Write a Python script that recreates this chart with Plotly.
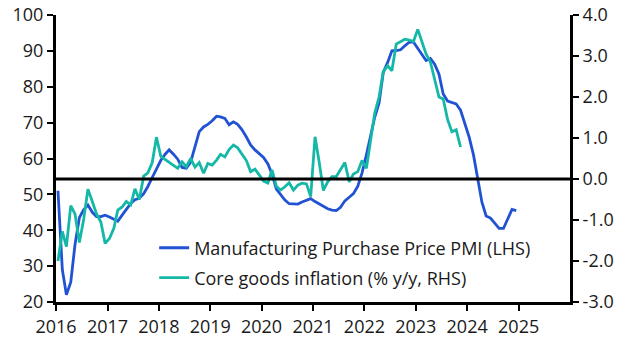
import pandas as pd
import plotly.graph_objects as go

# Manufacturing Purchase Price PMI (LHS), monthly Jan 2016 - Dec 2024
pmi = [51, 29, 22, 25.5, 36, 43.5, 45.7, 47, 45, 43.8, 43.8, 44.2,
       43.7, 43, 42.5, 44.2, 46, 47.5, 48.5, 48.9, 50.2, 52.2, 54.7, 57.3,
       59.5, 61.2, 62.4, 61.2, 59.8, 57.5, 57.3, 59, 63.3, 67.5, 68.8, 69.5,
       70.5, 71.8, 71.6, 71.2, 69.4, 70.2, 69.5, 68, 66, 63.8, 62.4, 61.4,
       60.3, 58.5, 55.7, 51.5, 49.8, 48.4, 47.4, 47.3, 47.3, 47.9, 48.3, 48.8,
       48, 47.3, 46.5, 46, 45.6, 45.5, 46.4, 48.2, 49.2, 50.2, 52.3, 56,
       61, 66.5, 71.5, 75.5, 84, 86.8, 90, 90.1, 90.3, 91.4, 92.4, 92.5,
       90.6, 88.9, 87.3, 87.9, 86.3, 83.5, 78, 76, 75.6, 75.2, 73.5, 69.8,
       66, 61, 54.5, 47.8, 44, 43.4, 42, 40.5, 40.5, 43, 45.8, 45.5]

# Core goods inflation (% y/y, RHS), monthly Jan 2016 - Nov 2023
core = [-2.0, -1.28, -1.65, -0.65, -0.85, -1.55, -1.0, -0.25, -0.55, -0.85, -1.05, -1.57,
        -1.45, -1.2, -0.76, -0.68, -0.55, -0.63, -0.24, -0.5, 0.07, 0.15, 0.4, 1.02,
        0.55, 0.48, 0.42, 0.33, 0.26, 0.42, 0.3, 0.5, 0.29, 0.4, 0.14, 0.38,
        0.34, 0.46, 0.6, 0.54, 0.72, 0.83, 0.76, 0.62, 0.45, 0.18, 0.24, 0.1,
        -0.05, -0.1, 0.22, -0.18, -0.27, -0.19, -0.09, -0.27, -0.15, -0.1, -0.12, -0.43,
        1.03, 0.38, -0.28, -0.07, 0.06, 0.06, 0.24, 0.4, -0.07, 0.12, 0.18, 0.45,
        0.26, 1.03, 1.6, 2.0, 2.62, 2.76, 2.64, 3.29, 3.36, 3.41, 3.39, 3.35,
        3.65, 3.35, 3.05, 2.85, 2.4, 2.0, 1.95, 1.45, 1.15, 1.2, 0.78]

years = [str(y) for y in range(2016, 2026)]
lhs_ticks = [20, 30, 40, 50, 60, 70, 80, 90, 100]
rhs_ticks = [-3, -2, -1, 0, 1, 2, 3, 4]
rhs_labels = ["-3.0", "-2.0", "-1.0", "0.0", "1.0", "2.0", "3.0", "4.0"]

names = ["Manufacturing Purchase Price PMI (LHS)", "Core goods inflation (% y/y, RHS)"]

dates_pmi = pd.date_range("2016-01-01", periods=len(pmi), freq="MS") + pd.Timedelta(days=14)
dates_core = pd.date_range("2016-01-01", periods=len(core), freq="MS") + pd.Timedelta(days=14)

BLUE = "#2152d4"
TEAL = "#15b8a6"
FONT = "Open Sans"
FS = 18

fig = go.Figure()
fig.add_trace(go.Scatter(x=dates_pmi, y=pmi, mode="lines", name=names[0],
                         line=dict(color=BLUE, width=2.8), yaxis="y", legend="legend"))
fig.add_trace(go.Scatter(x=dates_core, y=core, mode="lines", name=names[1],
                         line=dict(color=TEAL, width=2.8), yaxis="y2", legend="legend2"))

fig.add_shape(type="line", xref="paper", yref="y2", x0=0, x1=1, y0=0, y1=0,
              line=dict(color="black", width=3), layer="above")

axis_common = dict(showgrid=False, zeroline=False, showline=True, linecolor="black",
                   linewidth=3, ticks="outside", tickcolor="black", tickwidth=2, ticklen=6,
                   automargin=False,
                   tickfont=dict(family=FONT, size=FS, color="#1a1a1a"))

fig.update_layout(
    width=630, height=354,
    margin=dict(l=56, r=60, t=15, b=52, autoexpand=False),
    paper_bgcolor="white", plot_bgcolor="white",
    font=dict(family=FONT, size=FS, color="#1a1a1a"),
    xaxis=dict(type="date", range=["2016-01-01", "2026-01-01"],
               tickvals=[f"{y}-01-01" for y in years], ticktext=years, **axis_common),
    yaxis=dict(range=[20, 100], tickvals=lhs_ticks, **axis_common),
    yaxis2=dict(range=[-3, 4], overlaying="y", side="right", tickvals=rhs_ticks,
                ticktext=rhs_labels, **axis_common),
    legend=dict(x=0.191, y=0.188, xanchor="left", yanchor="middle", bgcolor="rgba(0,0,0,0)",
                font=dict(family=FONT, size=FS, color="#1a1a1a")),
    legend2=dict(x=0.191, y=0.0836, xanchor="left", yanchor="middle", bgcolor="rgba(0,0,0,0)",
                 font=dict(family=FONT, size=FS, color="#1a1a1a")),
    showlegend=True,
)

fig.write_html("out.html")
